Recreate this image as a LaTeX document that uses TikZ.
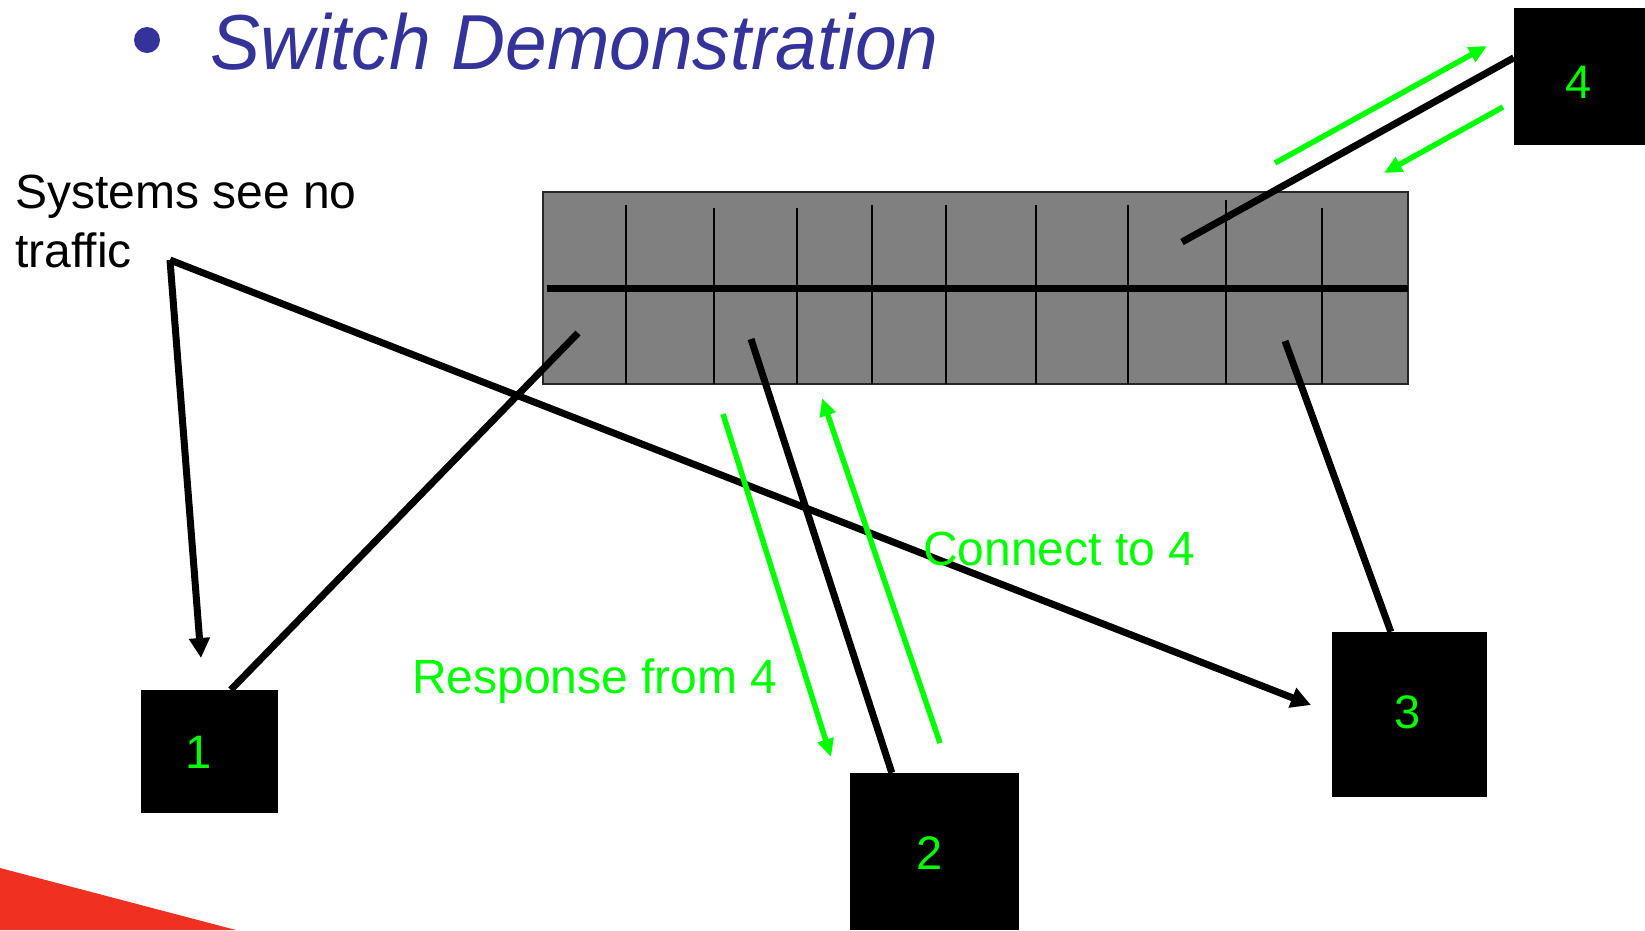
\documentclass[tikz,border=0pt]{standalone}
\usepackage{fontspec}
\setmainfont{Liberation Sans}
\usetikzlibrary{arrows.meta,calc}
\definecolor{ttlblue}{RGB}{51,51,153}
\definecolor{lgreen}{RGB}{0,255,0}
\definecolor{swgray}{RGB}{128,128,128}
\definecolor{cornerred}{RGB}{240,48,32}
\tikzset{
  blk/.style={line width=7pt, black},
  grn/.style={line width=5.5pt, lgreen},
  blktip/.style={-{Triangle[length=20pt,width=20pt]}},
  grntip/.style={-{Triangle[length=18pt,width=16pt]}},
  sysbox/.style={fill=black, draw=none, inner sep=0pt},
  boxlabel/.style={text=lgreen, font=\fontsize{47}{56}\selectfont, inner sep=0pt},
  grnlabel/.style={text=lgreen, font=\fontsize{48}{56}\selectfont, inner sep=0pt, anchor=base west},
  blklabel/.style={text=black, font=\fontsize{48}{58}\selectfont, inner sep=0pt, anchor=base west},
  portline/.style={line width=1.5pt, black}
}
\begin{document}
\begin{tikzpicture}[x=1pt,y=-1pt]
\useasboundingbox (0,0) rectangle (1645,930);
\fill[white] (0,0) rectangle (1645,930);
% red corner
\fill[cornerred] (0,868) -- (236,930) -- (0,930) -- cycle;
% title
\fill[ttlblue] (147,40) circle (13);
\node[anchor=base west, inner sep=0pt, text=ttlblue, xscale=0.96,
      font=\fontsize{78}{90}\selectfont\itshape] (title) at (210,69) {Switch Demonstration};
% switch
\node[sysbox, fill=swgray, draw=black!85, line width=1.5pt,
      minimum width=865pt, minimum height=192pt] (sw) at (975.5,288) {};
\foreach \px/\py in {626/205, 714/208, 797/208, 872/205, 946/205, 1036/205, 1128/205, 1226/200, 1322/208}
  \draw[portline] (\px,\py) -- (\px,384);
\draw[line width=7pt] (547,288) -- (1408,288);
% boxes
\node[sysbox, minimum width=137pt, minimum height=123pt] (b1) at (209.5,751.5) {};
\node[sysbox, minimum width=169pt, minimum height=157pt] (b2) at (934.5,851.5) {};
\node[sysbox, minimum width=155pt, minimum height=165pt] (b3) at (1409.5,714.5) {};
\node[sysbox, minimum width=131pt, minimum height=137pt] (b4) at (1579.5,76.5) {};
\node[boxlabel] (t1) at (199,752) {1};
\node[boxlabel] (t2) at (930,853) {2};
\node[boxlabel] (t3) at (1408,712) {3};
\node[boxlabel] (t4) at (1579,82) {4};
% port ends inside the switch
\coordinate (p1) at (578,333);
\coordinate (p2) at (751,339);
\coordinate (p3) at (1285,341);
\coordinate (p4) at (1182,242);
\draw[blk] ($(b1.north west)+(90,0)$) -- (p1);
\draw[blk] ($(b2.north west)+(42,0)$) -- (p2);
\draw[blk] ($(b3.north west)+(59,0)$) -- (p3);
\draw[blk] ($(b4.north west)+(0,50)$) -- (p4);
% text left
\node[blklabel] (sys) at (15,208) {Systems see no};
\node[blklabel] (traf) at (15,267) {traffic};
\coordinate (fork) at (170,260);
\coordinate (tip1) at (201,658);
\coordinate (tip3) at (1311,705);
\draw[blk, blktip] (fork) -- (tip1);
\draw[blk, blktip] (fork) -- (tip3);
% green arrows
\coordinate (g1s) at (1275,163); \coordinate (g1e) at (1487,46);
\coordinate (g2s) at (1503,107); \coordinate (g2e) at (1384,173);
\coordinate (g3s) at (723,414);  \coordinate (g3e) at (831,757);
\coordinate (g4s) at (940,743);  \coordinate (g4e) at (822,398);
\draw[grn, grntip] (g1s) -- (g1e);
\draw[grn, grntip] (g2s) -- (g2e);
\draw[grn, grntip] (g3s) -- (g3e);
\draw[grn, grntip] (g4s) -- (g4e);
\node[grnlabel] (conn) at (923,565) {Connect to 4};
\node[grnlabel] (resp) at (412,693) {Response from 4};
\end{tikzpicture}
\end{document}
